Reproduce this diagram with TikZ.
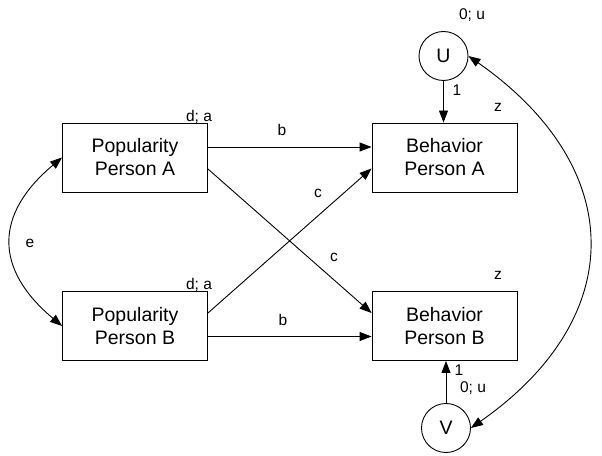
\documentclass[tikz,border=0pt]{standalone}
\usepackage{fontspec}
\setmainfont{Liberation Sans}
\usetikzlibrary{arrows.meta}

\begin{document}
\begin{tikzpicture}[x=1pt, y=1pt,
    box/.style={draw, line width=0.9pt, minimum width=145pt, minimum height=69pt, inner sep=0pt, align=center, font=\fontsize{19.5}{23}\selectfont},
    latent/.style={draw, circle, line width=0.9pt, minimum size=49pt, inner sep=0pt, font=\fontsize{19.5}{23}\selectfont},
    lbl/.style={inner sep=0pt, font=\fontsize{15.5}{18}\selectfont},
    arrow/.style={-{Triangle[length=12pt,width=9pt]}, line width=0.9pt},
    dblarrow/.style={{Triangle[length=12pt,width=9pt]}-{Triangle[length=12pt,width=9pt]}, line width=0.9pt}
]
\useasboundingbox (0,0) rectangle (602,455);
\node[box] (popA) at (135,297.5) {Popularity\\Person A};
\node[box] (popB) at (135,129) {Popularity\\Person B};
\node[box] (behA) at (444.5,297.5) {Behavior\\Person A};
\node[box] (behB) at (444.5,129) {Behavior\\Person B};
\node[latent] (U) at (443.5,399) {U};
\node[latent] (V) at (446,27) {V};
% labels
\node[lbl] (dA) at (199,338) {d; a};
\node[lbl] (dB) at (199,170) {d; a};
\node[lbl] (zA) at (498,348) {z};
\node[lbl] (zB) at (498,180) {z};
\node[lbl] (bA) at (282,325) {b};
\node[lbl] (bB) at (283,135) {b};
\node[lbl] (cA) at (318,262) {c};
\node[lbl] (cB) at (334,198) {c};
\node[lbl] (e) at (30,212) {e};
\node[lbl] (oneU) at (457,365) {1};
\node[lbl] (varU) at (472,440) {0; u};
\node[lbl] (oneV) at (459,85) {1};
\node[lbl] (varV) at (473,67) {0; u};
% paths
\draw[arrow] ([yshift=10.5pt]popA.east) -- ([yshift=10.5pt]behA.west);
\draw[arrow] ([yshift=-10.5pt]popB.east) -- ([yshift=-10.5pt]behB.west);
\draw[arrow] ([yshift=-11.5pt]popA.east) -- ([yshift=13pt]behB.west);
\draw[arrow] ([yshift=13pt]popB.east) -- ([yshift=-11pt]behA.west);
\draw[arrow] (U.south) -- (U.south |- behA.north);
\draw[arrow] (V.north) -- (V.north |- behB.south);
\draw[dblarrow] (popA.west) to[out=-140, in=140, looseness=1.35] (popB.west);
\draw[dblarrow] (U.east) to[out=-35, in=35, looseness=1.33] (V.east);
\end{tikzpicture}
\end{document}
